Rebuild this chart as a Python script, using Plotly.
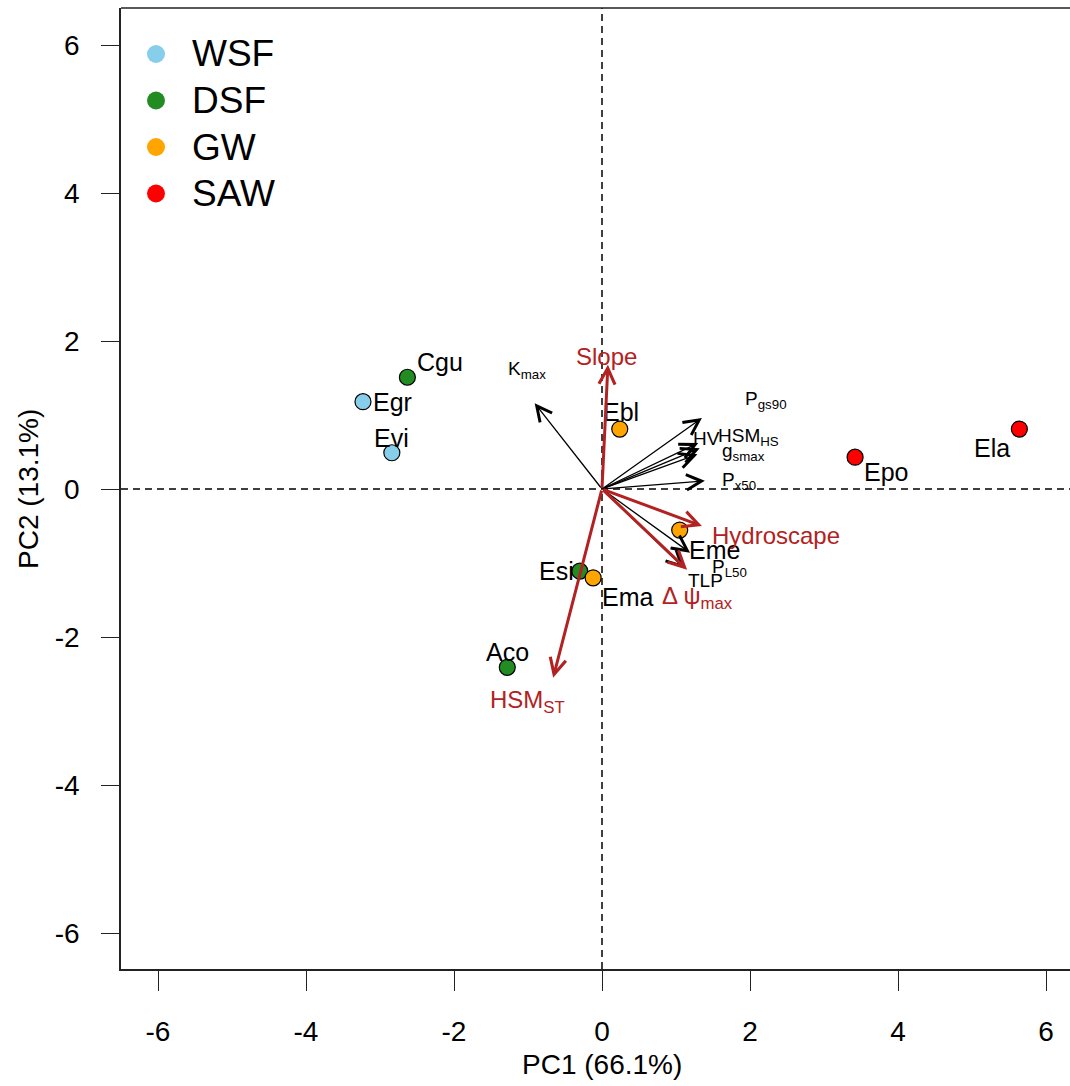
import plotly.graph_objects as go

# ---- species scores on the first two principal components ----
species = ["Cgu", "Egr", "Evi", "Ebl", "Ela", "Epo", "Eme", "Esi", "Ema", "Aco"]
forest_type = ["DSF", "WSF", "WSF", "GW", "SAW", "SAW", "GW", "DSF", "GW", "DSF"]
pc1 = [-2.63, -3.23, -2.84, 0.24, 5.64, 3.42, 1.05, -0.30, -0.12, -1.28]
pc2 = [1.51, 1.18, 0.49, 0.81, 0.81, 0.43, -0.555, -1.11, -1.20, -2.41]

# ---- trait loadings (black) ----
trait_labels = ["K<sub>max</sub>", "P<sub>gs90</sub>", "HV", "HSM<sub>HS</sub>",
                "g<sub>smax</sub>", "P<sub>x50</sub>", "P<sub>L50</sub>", "TLP"]
trait_pc1 = [-0.91, 1.35, 1.30, 1.32, 1.29, 1.39, 1.19, 1.11]
trait_pc2 = [1.16, 0.96, 0.62, 0.55, 0.47, 0.11, -0.86, -1.07]

# ---- hydraulic-strategy loadings (red) ----
hydro_labels = ["Slope", "Hydroscape", "\u0394 \u03c8<sub>max</sub>", "HSM<sub>ST</sub>"]
hydro_pc1 = [0.08, 1.35, 1.15, -0.66]
hydro_pc2 = [1.68, -0.50, -1.09, -2.55]

# ---- legend ----
groups = ["WSF", "DSF", "GW", "SAW"]
group_colors = ["#87CEEB", "#228B22", "#FFA500", "#FF0000"]

x_title = "PC1 (66.1%)"
y_title = "PC2 (13.1%)"
ticks = [-6, -4, -2, 0, 2, 4, 6]

# label placement (pixel shifts: dx right, dy down)
species_shift = {"Cgu": (33, -15), "Egr": (30, 0), "Evi": (0, -15), "Ebl": (1, -17),
                 "Ela": (-27, 19), "Epo": (31, 15), "Eme": (35, 20), "Esi": (-23, 0),
                 "Ema": (35, 19), "Aco": (0, -15)}
trait_shift = [(-8, -33), (64, -18), (8, -5), (49, -11), (46, -2), (34, 0), (39, 15), (21, 12)]
hydro_shift = [(-1, -8), (74, 9), (10, 28), (-26, 24)]

FONT = "Arial, Liberation Sans, sans-serif"
RED = "#B22222"
color_of = dict(zip(groups, group_colors))

W, H = 1070, 1086
ML, MR, MT, MB = 121, 0, 8, 117
PX = 74.0  # pixels per unit
x_range = [-6.5, -6.5 + (W - ML - MR) / PX]
y_range = [6.5 - (H - MT - MB) / PX, 6.5]

fig = go.Figure()

fig.add_trace(go.Scatter(
    x=pc1, y=pc2, mode="markers",
    marker=dict(size=16, color=[color_of[g] for g in forest_type],
                line=dict(color="black", width=1.2)),
    showlegend=False, hoverinfo="skip"))

annotations = []

# species labels
for name, x, y in zip(species, pc1, pc2):
    dx, dy = species_shift[name]
    annotations.append(dict(x=x, y=y, xref="x", yref="y", text=name, showarrow=False,
                            xshift=dx, yshift=-dy, font=dict(family=FONT, size=25, color="black")))

# loading arrows
def add_arrows(xs, ys, labels, shifts, color, width, headsize, fsize):
    for x, y, lab, (dx, dy) in zip(xs, ys, labels, shifts):
        annotations.append(dict(x=x, y=y, ax=0, ay=0, xref="x", yref="y", axref="x", ayref="y",
                                text="", showarrow=True, arrowhead=5, arrowsize=headsize,
                                arrowwidth=width, arrowcolor=color, standoff=0, startstandoff=0))
        annotations.append(dict(x=x, y=y, xref="x", yref="y", text=lab, showarrow=False,
                                xshift=dx, yshift=-dy, font=dict(family=FONT, size=fsize, color=color)))

add_arrows(trait_pc1, trait_pc2, trait_labels, trait_shift, "black", 1.3, 2.3, 19)
add_arrows(hydro_pc1, hydro_pc2, hydro_labels, hydro_shift, RED, 3, 1.05, 24)

# axis titles
annotations.append(dict(x=(602 - ML) / (W - ML - MR), y=-(1064 - (H - MB)) / (H - MT - MB),
                        xref="paper", yref="paper", text=x_title, showarrow=False,
                        xanchor="center", yanchor="middle", font=dict(family=FONT, size=28, color="black")))
annotations.append(dict(x=-(ML - 28) / (W - ML - MR), y=(H - MB - 489) / (H - MT - MB),
                        xref="paper", yref="paper", text=y_title, showarrow=False, textangle=-90,
                        xanchor="center", yanchor="middle", font=dict(family=FONT, size=28, color="black")))

shapes = [
    dict(type="line", xref="x", yref="paper", x0=0, x1=0, y0=0, y1=1,
         line=dict(color="black", width=1.5, dash="7px,5px"), layer="below"),
    dict(type="line", xref="paper", yref="y", x0=0, x1=1, y0=0, y1=0,
         line=dict(color="black", width=1.5, dash="7px,5px"), layer="below"),
    dict(type="line", xref="paper", yref="paper", x0=0, x1=1, y0=1, y1=1,
         line=dict(color="#222222", width=1.5)),
]

# legend (drawn at fixed pixel positions inside the panel)
plot_h = H - MT - MB
plot_w = W - ML - MR
for i, (g, c) in enumerate(zip(groups, group_colors)):
    ypix = 54 + i * 46.5
    yp = (H - MB - ypix) / plot_h
    shapes.append(dict(type="circle", xref="paper", yref="paper",
                       xsizemode="pixel", ysizemode="pixel",
                       xanchor=(156 - ML) / plot_w, yanchor=yp,
                       x0=-9, x1=9, y0=-9, y1=9,
                       fillcolor=c, line=dict(width=0)))
    annotations.append(dict(x=(190 - ML) / plot_w, y=yp, xref="paper", yref="paper",
                            text=g, showarrow=False, xanchor="left", yanchor="middle",
                            font=dict(family=FONT, size=37, color="black")))

axis_common = dict(showgrid=False, zeroline=False, showline=True, linecolor="#222222",
                   linewidth=1.5, ticks="outside", tickcolor="#222222", tickwidth=1.3,
                   tickvals=ticks, ticktext=[str(t) for t in ticks],
                   tickfont=dict(family=FONT, size=28, color="black"))

fig.update_layout(
    width=W, height=H,
    margin=dict(l=ML, r=MR, t=MT, b=MB, pad=0),
    paper_bgcolor="white", plot_bgcolor="white",
    xaxis=dict(range=x_range, ticklen=20, ticklabelstandoff=17, **axis_common),
    yaxis=dict(range=y_range, ticklen=18, ticklabelstandoff=16, **axis_common),
    annotations=annotations, shapes=shapes, showlegend=False,
)

fig.write_html("out.html")
